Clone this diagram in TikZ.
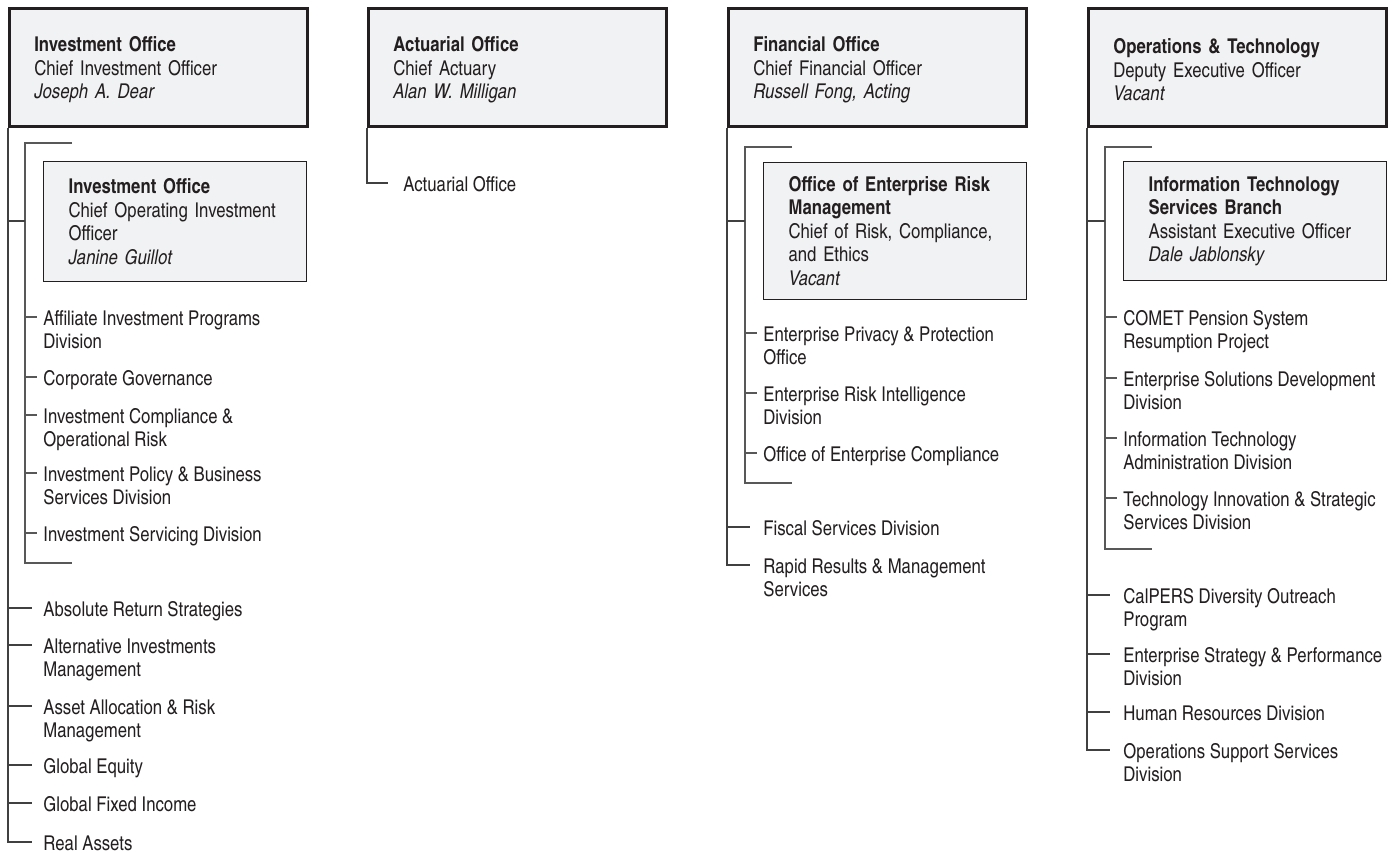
\documentclass[tikz,border=0pt]{standalone}
\usepackage{fontspec}
\setmainfont{texgyreheroscn}[
  Extension=.otf,
  UprightFont=*-regular,
  BoldFont=*-bold,
  ItalicFont=*-italic,
  BoldItalicFont=*-bolditalic,
]
\usetikzlibrary{
  positioning,
}
\definecolor{boxgray}{RGB}{241, 242, 244}
\definecolor{inkblack}{RGB}{35, 31, 32}
\definecolor{linkgray}{RGB}{64, 64, 64}
\definecolor{bracketgray}{RGB}{88, 88, 88}
\newcommand{\orgfont}{\fontsize{10.2pt}{11.75pt}\selectfont}
\tikzstyle{office} = [
  draw=inkblack,
  line width=1.3pt,
  fill=boxgray,
  anchor=north west,
  minimum width=149pt,
  minimum height=59pt,
  text width=124pt,
  text height=10.2pt,
  inner xsep=12.5pt,
  inner ysep=0pt,
  align=left,
]
\tikzstyle{unit} = [
  draw=inkblack,
  line width=0.6pt,
  fill=boxgray,
  anchor=north west,
  minimum width=131.5pt,
  text width=106.5pt,
  inner xsep=12.5pt,
  inner ysep=0pt,
  align=left,
]
\tikzstyle{item} = [anchor=north west, inner sep=0pt, align=left]
\tikzstyle{link} = [draw=linkgray, line width=0.55pt]
\tikzstyle{bracket} = [draw=bracketgray, line width=0.8pt]

\begin{document}
\begin{tikzpicture}[x=0.5pt, y=-0.5pt, font=\orgfont, text=inkblack]
      \useasboundingbox (0,0) rectangle (1400,852);

      % top row
      \node[office] (inv) at (8,7)    {\textbf{Investment Office}\\Chief Investment Officer\\\textit{Joseph A. Dear}};
      \node[office] (act) at (367,7)  {\textbf{Actuarial Office}\\Chief Actuary\\\textit{Alan W. Milligan}};
      \node[office] (fin) at (727,7)  {\textbf{Financial Office}\\Chief Financial Officer\\\textit{Russell Fong, Acting}};
      \node[office] (ops) at (1087,7) {\textbf{Operations \& Technology}\\Deputy Executive Officer\\\textit{Vacant}};

      % investment office
      \node[unit,minimum height=60pt] (invu) at (43,161) {\textbf{Investment Office}\\Chief Operating Investment\\Officer\\\textit{Janine Guillot}};
      \node[item] (invc1) at (43,310) {Affiliate Investment Programs\\Division};
      \node[item] (invc2) at (43,370) {Corporate Governance};
      \node[item] (invc3) at (43,408) {Investment Compliance \&\\Operational Risk};
      \node[item] (invc4) at (43,466) {Investment Policy \& Business\\Services Division};
      \node[item] (invc5) at (43,526) {Investment Servicing Division};
      \node[item] (invd1) at (43,601) {Absolute Return Strategies};
      \node[item] (invd2) at (43,638) {Alternative Investments\\Management};
      \node[item] (invd3) at (43,699) {Asset Allocation \& Risk\\Management};
      \node[item] (invd4) at (43,758) {Global Equity};
      \node[item] (invd5) at (43,796) {Global Fixed Income};
      \node[item] (invd6) at (43,835) {Real Assets};

      \coordinate (invtop) at (25,143);
      \coordinate (invbot) at (25,563);
      \coordinate (invjoin) at (25,221);
      \draw[bracket] (invtop) ++(47,0) -- (invtop) -- (invbot) -- ++(47,0);
      \draw[link] (inv.south west |- invjoin) -- (invjoin);
      \draw[bracket] ([shift={(-18,7)}]invc1.north west) -- ++(12,0);
      \draw[bracket] ([shift={(-18,7)}]invc2.north west) -- ++(12,0);
      \draw[bracket] ([shift={(-18,7)}]invc3.north west) -- ++(12,0);
      \draw[bracket] ([shift={(-18,7)}]invc4.north west) -- ++(12,0);
      \draw[bracket] ([shift={(-18,7)}]invc5.north west) -- ++(12,0);
      \draw[link] (inv.south west) |- ([shift={(-11,7)}]invd6.north west);
      \draw[link] ([shift={(-35,7)}]invd1.north west) -- ++(24,0);
      \draw[link] ([shift={(-35,7)}]invd2.north west) -- ++(24,0);
      \draw[link] ([shift={(-35,7)}]invd3.north west) -- ++(24,0);
      \draw[link] ([shift={(-35,7)}]invd4.north west) -- ++(24,0);
      \draw[link] ([shift={(-35,7)}]invd5.north west) -- ++(24,0);

      % actuarial office
      \node[item] (act1) at (403,176) {Actuarial Office};
      \draw[link] (act.south west) |- ([shift={(-15,7)}]act1.north west);

      % financial office
      \node[unit,minimum height=68.5pt] (finu) at (763,162) {\textbf{Office of Enterprise Risk}\\\textbf{Management}\\Chief of Risk, Compliance,\\and Ethics\\\textit{Vacant}};
      \node[item] (finc1) at (763,326) {Enterprise Privacy \& Protection\\Office};
      \node[item] (finc2) at (763,386) {Enterprise Risk Intelligence\\Division};
      \node[item] (finc3) at (763,446) {Office of Enterprise Compliance};
      \node[item] (find1) at (763,520) {Fiscal Services Division};
      \node[item] (find2) at (763,558) {Rapid Results \& Management\\Services};

      \coordinate (fintop) at (745,147);
      \coordinate (finbot) at (745,483);
      \coordinate (finjoin) at (745,221);
      \draw[bracket] (fintop) ++(47,0) -- (fintop) -- (finbot) -- ++(47,0);
      \draw[link] (fin.south west |- finjoin) -- (finjoin);
      \draw[bracket] ([shift={(-18,7)}]finc1.north west) -- ++(12,0);
      \draw[bracket] ([shift={(-18,7)}]finc2.north west) -- ++(12,0);
      \draw[bracket] ([shift={(-18,7)}]finc3.north west) -- ++(12,0);
      \draw[link] (fin.south west) |- ([shift={(-13,7)}]find2.north west);
      \draw[link] ([shift={(-36,7)}]find1.north west) -- ++(23,0);

      % operations & technology
      \node[unit,minimum height=59.5pt] (opsu) at (1123,161) {\textbf{Information Technology}\\\textbf{Services Branch}\\Assistant Executive Officer\\\textit{Dale Jablonsky}};
      \node[item] (opsc1) at (1123,310) {COMET Pension System\\Resumption Project};
      \node[item] (opsc2) at (1123,371) {Enterprise Solutions Development\\Division};
      \node[item] (opsc3) at (1123,431) {Information Technology\\Administration Division};
      \node[item] (opsc4) at (1123,491) {Technology Innovation \& Strategic\\Services Division};
      \node[item] (opsd1) at (1123,588) {CalPERS Diversity Outreach\\Program};
      \node[item] (opsd2) at (1123,647) {Enterprise Strategy \& Performance\\Division};
      \node[item] (opsd3) at (1123,705) {Human Resources Division};
      \node[item] (opsd4) at (1123,743) {Operations Support Services\\Division};

      \coordinate (opstop) at (1105,147);
      \coordinate (opsbot) at (1105,549);
      \coordinate (opsjoin) at (1105,221);
      \draw[bracket] (opstop) ++(47,0) -- (opstop) -- (opsbot) -- ++(47,0);
      \draw[link] (ops.south west |- opsjoin) -- (opsjoin);
      \draw[bracket] ([shift={(-18,7)}]opsc1.north west) -- ++(12,0);
      \draw[bracket] ([shift={(-18,7)}]opsc2.north west) -- ++(12,0);
      \draw[bracket] ([shift={(-18,7)}]opsc3.north west) -- ++(12,0);
      \draw[bracket] ([shift={(-18,7)}]opsc4.north west) -- ++(12,0);
      \draw[link] (ops.south west) |- ([shift={(-13,7)}]opsd4.north west);
      \draw[link] ([shift={(-36,7)}]opsd1.north west) -- ++(23,0);
      \draw[link] ([shift={(-36,7)}]opsd2.north west) -- ++(23,0);
      \draw[link] ([shift={(-36,7)}]opsd3.north west) -- ++(23,0);

\end{tikzpicture}
\end{document}
